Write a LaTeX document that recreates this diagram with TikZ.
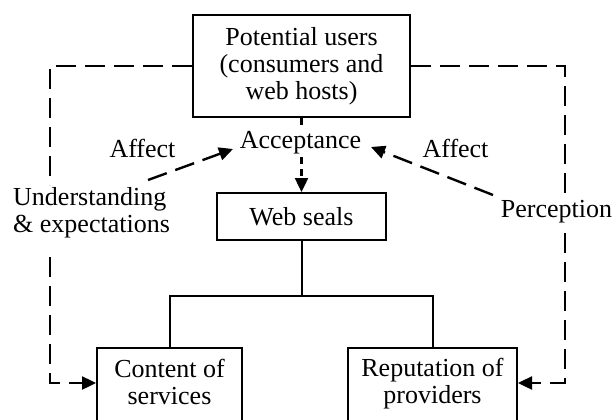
\documentclass[tikz,border=0pt]{standalone}
\usepackage{fontspec}
\setmainfont{Liberation Serif}
\usetikzlibrary{arrows.meta}
\begin{document}
\begin{tikzpicture}[x=1pt,y=-1pt,
  box/.style={draw, line width=2pt, inner sep=0pt, align=center, font=\fontsize{26}{27}\selectfont},
  txt/.style={font=\fontsize{26}{27}\selectfont, inner sep=0pt, align=center},
  lbl/.style={font=\fontsize{26}{27}\selectfont, inner sep=0pt, anchor=base},
  link/.style={line width=2.4pt, dash pattern=on 20pt off 9pt},
  shortlink/.style={line width=2.4pt, dash pattern=on 7pt off 5pt},
  tip/.style={-{Triangle[length=14pt,width=13pt]}},
  tree/.style={line width=2pt}]
\useasboundingbox (0,0) rectangle (616,420);
% boxes
\node[box, minimum width=217pt, minimum height=102pt] (top) at (301.5,66) {Potential users\\(consumers and\\web hosts)};
\node[box, minimum width=169pt, minimum height=47pt] (web) at (301.5,216.5) {Web seals};
\node[box, minimum width=145pt, minimum height=100pt, anchor=north] (content) at (169.5,347) {};
\node[txt] (contentT) at (169.5,381.6) {Content of\\services};
\node[box, minimum width=169pt, minimum height=100pt, anchor=north] (rep) at (432.5,347) {};
\node[txt] (repT) at (432.5,383.9) {Reputation of\\providers};
% labels
\node[lbl] (acc) at (300.5,148) {Acceptance};
\node[lbl] (affL) at (142.5,157) {Affect};
\node[lbl] (affR) at (455.5,157) {Affect};
\node[txt, align=left, anchor=west] (und) at (13,212.9) {Understanding\\\& expectations};
\node[lbl] (perc) at (556.5,217) {Perception};
% coordinates
\coordinate (c1) at (301.5,126);
\coordinate (c2) at (301.5,157);
\coordinate (L1) at (50,185);
\coordinate (L2) at (50,257);
\coordinate (L3) at (50,383);
\coordinate (R1) at (565,193);
\coordinate (R2) at (565,233);
\coordinate (R3) at (565,383);
\coordinate (a1) at (148,180);
\coordinate (a2) at (233,149);
\coordinate (b1) at (493,195);
\coordinate (b2) at (371,147);
\coordinate (j) at (301.5,296);
% acceptance path
\draw[shortlink] (top.south) -- (c1);
\draw[shortlink,tip] (c2) -- (web.north);
% tree
\draw[tree] (web.south) -- (j);
\draw[tree] (content.north) -- (content.north |- j) -- (rep.north |- j) -- (rep.north);
% side dashed paths
\draw[link] (top.west) -| (L1);
\draw[link,tip] (L2) -- (L3) -- (L3 -| content.west);
\draw[link] (top.east) -| (R1);
\draw[link,tip] (R2) -- (R3) -- (R3 -| rep.east);
% affect arrows
\draw[link,tip] (a1) -- (a2);
\draw[link,tip] (b1) -- (b2);
\end{tikzpicture}
\end{document}
